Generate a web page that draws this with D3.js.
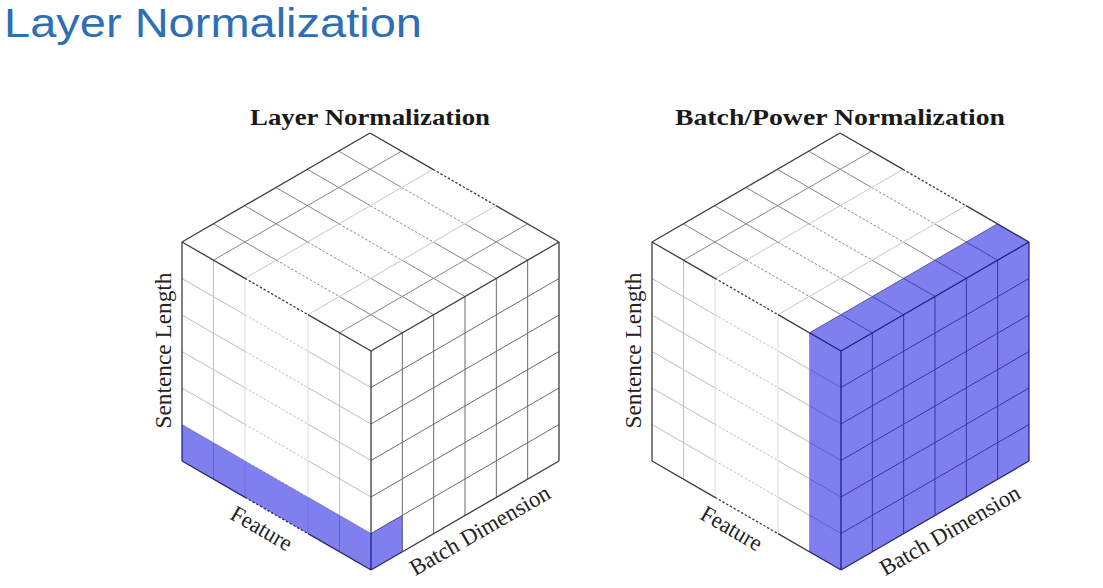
<!DOCTYPE html>
<html>
<head>
<meta charset="utf-8">
<script src="https://cdn.jsdelivr.net/npm/d3@7"></script>
<style>
    html, body { margin: 0; background: #fff; }
    svg { display: block; }
</style>
</head>
<body>
<svg id="chart" width="1103" height="588"></svg>
<script>
// --- data ---
const pageTitle = "Layer Normalization";
const panelTitles = ["Layer Normalization", "Batch/Power Normalization"];
const featureLabel = "Feature";
const batchLabel = "Batch Dimension";
const lengthLabel = "Sentence Length";

const featureSteps = [0, 1, 2, 3, 4, 5, 6];
const batchSteps = [0, 1, 2, 3, 4, 5, 6];
const lengthSteps = [0, 1, 2, 3, 4, 5, 6];
const elidedFeatures = [2, 4];          // the "..." span drawn dashed

// highlighted slab per panel: [from, to] on each axis
const hiFeature = [[0, 6], [5, 6]];
const hiBatch = [[5, 6], [0, 6]];
const hiLength = [[5, 6], [0, 6]];

// --- layout ---
const svg = d3.select("#chart");
const panelX = [370, 840];
const cubeTop = 133;
const EDGE = "#3b3b3b";

const fx = d3.scaleLinear().domain([0, 6]).range([0, 189]);
const fy = d3.scaleLinear().domain([0, 6]).range([0, 109]);
const bx = d3.scaleLinear().domain([0, 6]).range([0, -188]);
const by = d3.scaleLinear().domain([0, 6]).range([0, 109]);
const sy = d3.scaleLinear().domain([0, 6]).range([0, 219]);

const last = a => a[a.length - 1];

svg.append("text")
    .attr("x", 4).attr("y", 37)
    .attr("font-family", "Liberation Sans, Arial, sans-serif")
    .attr("font-size", 41)
    .attr("fill", "#2e6eb5")
    .attr("textLength", 418).attr("lengthAdjust", "spacingAndGlyphs")
    .text(pageTitle);

panelTitles.forEach((title, p) => {
    const cx = panelX[p];
    const proj = (f, b, s) => [cx + fx(f) + bx(b), cubeTop + fy(f) + by(b) + sy(s)];
    const g = svg.append("g");
    const fMax = last(featureSteps), bMax = last(batchSteps), sMax = last(lengthSteps);

    function seg(a, b, color, width, dashed) {
        g.append("line")
            .attr("x1", a[0]).attr("y1", a[1])
            .attr("x2", b[0]).attr("y2", b[1])
            .attr("stroke", color)
            .attr("stroke-width", width)
            .attr("stroke-dasharray", dashed ? "2.4,1.9" : null);
    }
    // a line running in feature direction, dashed over the elided part
    function featureLine(at, color, width) {
        const pts = [0, elidedFeatures[0], elidedFeatures[1], fMax];
        for (let i = 0; i < 3; i++) {
            seg(at(pts[i]), at(pts[i + 1]), color, width, i === 1);
        }
    }
    const isEdge = (v, arr) => v === arr[0] || v === last(arr);
    const featureTone = (k, mid, light) =>
        k === 3 ? null : (k === elidedFeatures[0] || k === elidedFeatures[1]) ? light : mid;

    // interior grid lines
    // top face
    batchSteps.filter(j => !isEdge(j, batchSteps))
        .forEach(j => featureLine(f => proj(f, j, 0), "#868686", 1));
    featureSteps.filter(k => !isEdge(k, featureSteps)).forEach(k => {
        const c = featureTone(k, "#868686", "#c8c8c8");
        if (c) seg(proj(k, 0, 0), proj(k, bMax, 0), c, 1, false);
    });
    // left face (front)
    lengthSteps.filter(i => !isEdge(i, lengthSteps))
        .forEach(i => featureLine(f => proj(f, bMax, i), "#bdbdbd", 1));
    featureSteps.filter(k => !isEdge(k, featureSteps)).forEach(k => {
        const c = featureTone(k, "#c2c2c2", "#dcdcdc");
        if (c) seg(proj(k, bMax, 0), proj(k, bMax, sMax), c, 1, false);
    });
    // right face
    lengthSteps.filter(i => !isEdge(i, lengthSteps))
        .forEach(i => seg(proj(fMax, 0, i), proj(fMax, bMax, i), "#6a6a6a", 1, false));
    batchSteps.filter(j => !isEdge(j, batchSteps))
        .forEach(j => seg(proj(fMax, j, 0), proj(fMax, j, sMax), "#6a6a6a", 1, false));

    // outer edges
    featureLine(f => proj(f, 0, 0), EDGE, 1.3);
    featureLine(f => proj(f, bMax, 0), EDGE, 1.3);
    featureLine(f => proj(f, bMax, sMax), EDGE, 1.3);
    seg(proj(0, 0, 0), proj(0, bMax, 0), EDGE, 1.3);
    seg(proj(fMax, 0, 0), proj(fMax, bMax, 0), EDGE, 1.3);
    seg(proj(fMax, 0, sMax), proj(fMax, bMax, sMax), EDGE, 1.3);
    seg(proj(0, bMax, 0), proj(0, bMax, sMax), EDGE, 1.3);
    seg(proj(fMax, bMax, 0), proj(fMax, bMax, sMax), EDGE, 1.3);
    seg(proj(fMax, 0, 0), proj(fMax, 0, sMax), EDGE, 1.3);

    // highlighted slab, only its faces on the visible surface
    const [f0, f1] = hiFeature[p], [b0, b1] = hiBatch[p], [s0, s1] = hiLength[p];
    const faces = [];
    if (s0 === 0) faces.push([proj(f0, b0, 0), proj(f1, b0, 0), proj(f1, b1, 0), proj(f0, b1, 0)]);
    if (b1 === bMax) faces.push([proj(f0, bMax, s0), proj(f1, bMax, s0), proj(f1, bMax, s1), proj(f0, bMax, s1)]);
    if (f1 === fMax) faces.push([proj(fMax, b0, s0), proj(fMax, b1, s0), proj(fMax, b1, s1), proj(fMax, b0, s1)]);
    g.selectAll("polygon.hi").data(faces).enter().append("polygon")
        .attr("class", "hi")
        .attr("points", d => d.map(q => q.join(",")).join(" "))
        .attr("fill", "rgb(0,0,222)")
        .attr("fill-opacity", 0.5);

    // titles and axis labels
    g.append("text")
        .attr("x", cx).attr("y", 125)
        .attr("text-anchor", "middle")
        .attr("font-family", "Liberation Serif, serif")
        .attr("font-weight", "bold")
        .attr("font-size", 23)
        .attr("fill", "#1a1a1a")
        .attr("textLength", p === 0 ? 240 : 330).attr("lengthAdjust", "spacingAndGlyphs")
        .text(title);

    const angle = Math.atan2(fy(6), fx(6)) * 180 / Math.PI;
    const lab = (txt, pos, rot, len) => g.append("text")
        .attr("transform", `translate(${pos[0]},${pos[1]}) rotate(${rot})`)
        .attr("text-anchor", "middle")
        .attr("dy", "0.32em")
        .attr("font-family", "Liberation Serif, serif")
        .attr("font-size", 23)
        .attr("fill", "#222")
        .attr("textLength", len).attr("lengthAdjust", "spacingAndGlyphs")
        .text(txt);

    const fm = proj(fMax / 2, bMax, sMax);
    lab(featureLabel, [fm[0] - 15, fm[1] + 13], angle, 67);
    const bm = proj(fMax, bMax / 2, sMax);
    lab(batchLabel, [bm[0] + 15, bm[1] + 15], -angle, 158);
    const lm = proj(0, bMax, sMax / 2);
    lab(lengthLabel, [lm[0] - 18, lm[1] - 1], -90, 156);
});
</script>
</body>
</html>
